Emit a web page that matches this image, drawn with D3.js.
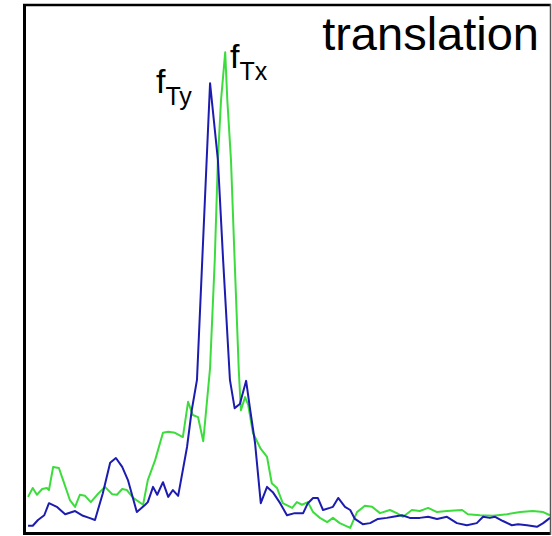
<!DOCTYPE html>
<html>
<head>
<meta charset="utf-8">
<script src="https://cdn.jsdelivr.net/npm/d3@7"></script>
<style>
  body { margin: 0; background: #fff; }
  svg { display: block; font-family: "Liberation Sans", Arial, sans-serif; }
</style>
</head>
<body>
<div id="chart"></div>
<script>
// spectra: x = frequency (0-100), y = amplitude (0-100)
var freqX = [0.2, 1.1, 1.9, 2.9, 3.8, 4.2, 5.0, 6.1, 6.9, 8.2, 9.2, 10.1, 11.1, 12.2, 13.4, 14.9, 16.3, 17.2, 18.2, 19.1,
  20.3, 22.2, 23.1, 24.5, 26.0, 27.0, 28.3, 29.8, 30.8, 31.7, 32.7, 33.7, 35.0, 35.9, 36.5, 37.1, 37.9, 38.3, 39.0, 39.7,
  40.5, 40.9, 41.7, 42.3, 43.2, 44.6, 45.9, 46.8, 47.8, 48.9, 50.7, 51.6, 52.6, 53.7, 54.7, 56.0, 57.4, 58.5, 59.8, 61.8,
  63.1, 64.6, 66.0, 67.5, 69.4, 70.7, 71.9, 73.6, 75.1, 76.7, 78.4, 80.3, 83.2, 84.3, 86.6, 89.1, 91.8, 94.3, 96.7, 98.7, 100];
var ampX = [6.5, 8.2, 6.9, 8.0, 8.2, 7.8, 12.2, 12.0, 9.7, 5.9, 4.6, 6.9, 6.7, 5.5, 6.9, 8.4, 7.0, 6.9, 8.0, 7.8,
  6.3, 5.0, 9.7, 13.5, 18.7, 18.9, 18.7, 17.9, 24.6, 22.1, 21.7, 17.1, 31.0, 51.6, 70.7, 82.1, 91.2, 82.1, 70.7, 51.6,
  30.5, 23.0, 25.5, 24.0, 18.7, 15.8, 14.1, 9.1, 8.2, 5.3, 4.4, 5.5, 5.0, 5.5, 3.6, 2.5, 1.7, 2.5, 1.5, 0.6,
  3.6, 4.8, 4.6, 3.4, 4.0, 3.4, 2.7, 4.0, 3.8, 4.4, 3.6, 3.8, 4.0, 3.2, 3.0, 2.9, 3.2, 3.6, 3.8, 3.6, 3.0];

var freqY = [0.2, 1.1, 2.1, 3.3, 4.2, 5.7, 7.3, 9.2, 10.7, 11.9, 13.0, 14.5, 15.9, 17.0, 18.2, 19.3, 21.0, 22.6, 23.1, 24.1,
  24.9, 26.0, 27.0, 27.9, 28.9, 30.6, 31.5, 32.5, 35.0, 36.5, 37.5, 38.8, 39.7, 40.7, 41.9, 42.6, 43.6, 44.7, 45.9, 47.0,
  48.4, 49.7, 51.2, 52.8, 53.7, 54.7, 55.6, 56.6, 57.9, 58.5, 59.5, 60.8, 61.8, 62.7, 64.2, 65.6, 67.1, 68.8, 70.0, 71.7,
  73.2, 75.1, 76.7, 78.4, 80.3, 82.2, 84.1, 86.0, 87.2, 88.5, 89.5, 91.0, 92.7, 93.9, 95.6, 97.5, 98.7, 100];
var ampY = [1.0, 1.0, 2.1, 3.0, 5.3, 4.6, 3.2, 3.8, 2.9, 2.5, 2.1, 7.2, 13.0, 13.9, 12.2, 9.7, 3.6, 5.0, 5.5, 8.4,
  6.9, 9.3, 6.5, 7.8, 6.7, 16.0, 23.0, 28.8, 85.3, 70.7, 51.6, 28.8, 23.4, 24.2, 28.6, 23.6, 16.8, 5.3, 8.4, 7.4,
  5.3, 3.0, 3.4, 3.4, 5.3, 6.3, 6.3, 4.0, 4.4, 4.6, 6.3, 4.6, 4.0, 2.3, 1.3, 1.5, 2.3, 2.5, 2.7, 3.0,
  2.5, 2.5, 2.7, 2.3, 2.7, 1.5, 1.1, 1.5, 2.7, 2.5, 2.7, 1.9, 1.1, 1.3, 1.1, 0.8, 1.5, 2.5];

var title = "translation";

var svgWidth = 552;
var svgHeight = 536;

var svg = d3.select("#chart")
  .append("svg")
  .attr("width", svgWidth)
  .attr("height", svgHeight);

var xScale = d3.scaleLinear().domain([0, 100]).range([27, 550]);
var yScale = d3.scaleLinear().domain([0, 100]).range([531, 6]);

var line = d3.line()
  .x(d => xScale(d[0]))
  .y(d => yScale(d[1]));

var seriesX = freqX.map((f, i) => [f, ampX[i]]);
var seriesY = freqY.map((f, i) => [f, ampY[i]]);

svg.append("path")
  .datum(seriesX)
  .attr("d", line)
  .attr("fill", "none")
  .attr("stroke", "#3ddc3d")
  .attr("stroke-width", 2)
  .attr("stroke-linejoin", "round");

svg.append("path")
  .datum(seriesY)
  .attr("d", line)
  .attr("fill", "none")
  .attr("stroke", "#1c1cb0")
  .attr("stroke-width", 2)
  .attr("stroke-linejoin", "round");

// frame: left/top/bottom dark, right edge thinner and greyer like the scan
svg.append("line").attr("x1", 24.5).attr("x2", 24.5).attr("y1", 4).attr("y2", 535)
  .attr("stroke", "#000").attr("stroke-width", 3);
svg.append("line").attr("x1", 23).attr("x2", 551).attr("y1", 5).attr("y2", 5)
  .attr("stroke", "#000").attr("stroke-width", 2.5);
svg.append("line").attr("x1", 23).attr("x2", 551).attr("y1", 533.5).attr("y2", 533.5)
  .attr("stroke", "#000").attr("stroke-width", 3);
svg.append("line").attr("x1", 550.5).attr("x2", 550.5).attr("y1", 4).attr("y2", 535)
  .attr("stroke", "#555").attr("stroke-width", 1.5);

svg.append("text")
  .attr("x", 539)
  .attr("y", 50)
  .attr("text-anchor", "end")
  .style("font-size", "47px")
  .text(title);

// peak labels
function peakLabel(x, y, sub) {
  var t = svg.append("text")
    .attr("x", x)
    .attr("y", y)
    .style("font-size", "34px");
  t.append("tspan").text("f");
  t.append("tspan")
    .attr("dy", 12)
    .style("font-size", "25px")
    .text(sub);
}
peakLabel(156, 93, "Ty");
peakLabel(230, 68, "Tx");
</script>
</body>
</html>
